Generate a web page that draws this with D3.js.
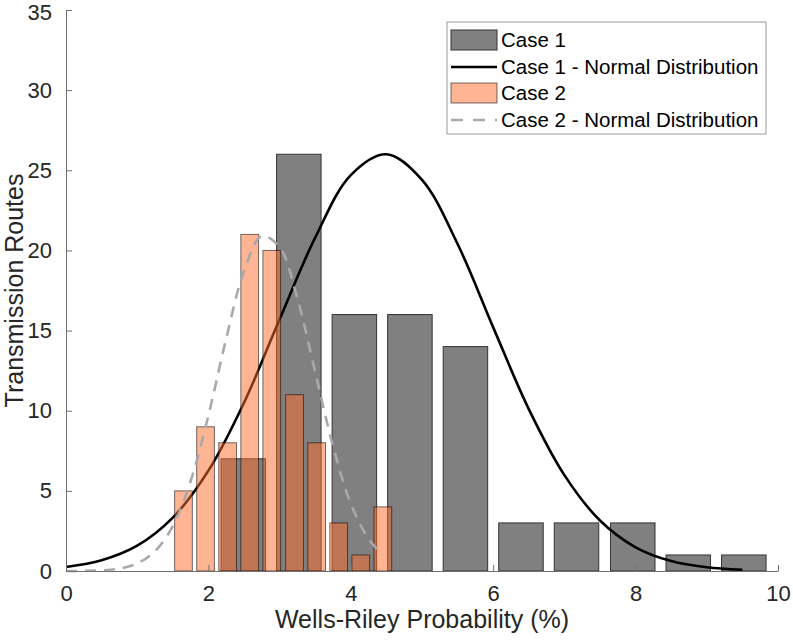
<!DOCTYPE html>
<html>
<head>
<meta charset="utf-8">
<script src="https://cdn.jsdelivr.net/npm/d3@7"></script>
<style>
  html, body { margin: 0; padding: 0; background: #fff; }
  svg { display: block; font-family: "Liberation Sans", Arial, sans-serif; }
</style>
</head>
<body>
<svg id="chart" width="793" height="643"></svg>
<script>
// ---- Data ----
const caseOneCenters = [2.49, 3.27, 4.05, 4.83, 5.61, 6.39, 7.17, 7.96, 8.74, 9.52];
const caseOneCounts  = [7, 26, 16, 16, 14, 3, 3, 3, 1, 1];
const caseTwoCenters = [1.65, 1.96, 2.27, 2.58, 2.89, 3.21, 3.52, 3.83, 4.14, 4.45];
const caseTwoCounts  = [5, 9, 8, 21, 20, 11, 8, 3, 1, 4];

const caseOneCurveX = [0, 0.5, 1, 1.5, 2, 2.5, 3, 3.5, 4, 4.5, 5, 5.5, 6, 6.5, 7, 7.5, 8, 8.5, 9, 9.5];
const caseOneCurveY = [0.25, 0.67, 1.58, 3.33, 6.26, 10.5, 15.7, 20.8, 24.7, 26.0, 24.4, 20.4, 15.2, 10.1, 5.98, 3.15, 1.48, 0.62, 0.23, 0.08];

const caseTwoCurveX = [0, 0.25, 0.5, 0.75, 1, 1.25, 1.5, 1.75, 2, 2.25, 2.5, 2.75, 3, 3.25, 3.5, 3.75, 4, 4.25, 4.45];
const caseTwoCurveY = [0, 0.01, 0.04, 0.15, 0.47, 1.24, 2.8, 5.6, 9.7, 14.5, 18.7, 20.9, 20.2, 17.0, 12.4, 7.8, 4.2, 2.0, 1.0];

const xTicks = [0, 2, 4, 6, 8, 10];
const yTicks = [0, 5, 10, 15, 20, 25, 30, 35];
const legendLabels = ["Case 1", "Case 1 - Normal Distribution", "Case 2", "Case 2 - Normal Distribution"];

// ---- Layout ----
const svg = d3.select("#chart");
const x = d3.scaleLinear().domain([0, 10]).range([66, 778]);
const y = d3.scaleLinear().domain([0, 35]).range([571, 10]);
const barWidthOne = 0.625;   // in data units
const barWidthTwo = 0.249;

const axisColor = "#707070";
const textColor = "#262626";

// Case 1 bars
svg.append("g").selectAll("rect")
  .data(caseOneCenters.map((c, i) => ({c, v: caseOneCounts[i]})))
  .join("rect")
  .attr("x", d => x(d.c - barWidthOne / 2))
  .attr("width", d => x(d.c + barWidthOne / 2) - x(d.c - barWidthOne / 2))
  .attr("y", d => y(d.v))
  .attr("height", d => y(0) - y(d.v))
  .attr("fill", "#808080")
  .attr("stroke", "#333")
  .attr("stroke-width", 1);

// Case 1 normal curve
const line = d3.line().curve(d3.curveCatmullRom.alpha(0.5));
svg.append("path")
  .attr("d", line(caseOneCurveX.map((v, i) => [x(v), y(caseOneCurveY[i])])))
  .attr("fill", "none")
  .attr("stroke", "#000")
  .attr("stroke-width", 2.6);

// Case 2 bars
svg.append("g").selectAll("rect")
  .data(caseTwoCenters.map((c, i) => ({c, v: caseTwoCounts[i]})))
  .join("rect")
  .attr("x", d => x(d.c - barWidthTwo / 2))
  .attr("width", d => x(d.c + barWidthTwo / 2) - x(d.c - barWidthTwo / 2))
  .attr("y", d => y(d.v))
  .attr("height", d => y(0) - y(d.v))
  .attr("fill", "rgb(255,106,42)")
  .attr("fill-opacity", 0.5)
  .attr("stroke", "#000")
  .attr("stroke-opacity", 0.55)
  .attr("stroke-width", 1);

// Case 2 normal curve
svg.append("path")
  .attr("d", line(caseTwoCurveX.map((v, i) => [x(v), y(caseTwoCurveY[i])])))
  .attr("fill", "none")
  .attr("stroke", "#a9a9a9")
  .attr("stroke-width", 2.6)
  .attr("stroke-dasharray", "11,8");

// Axes
const xAxis = d3.axisBottom(x).tickValues(xTicks).tickSizeInner(-6).tickSizeOuter(0).tickPadding(14);
const yAxis = d3.axisLeft(y).tickValues(yTicks).tickSizeInner(-6).tickSizeOuter(0).tickPadding(14);

const gx = svg.append("g").attr("transform", `translate(0,${y(0)})`).call(xAxis);
const gy = svg.append("g").attr("transform", `translate(${x(0)},0)`).call(yAxis);
[gx, gy].forEach(g => {
  g.select(".domain").attr("stroke", axisColor).attr("stroke-width", 1);
  g.selectAll(".tick line").attr("stroke", axisColor).attr("stroke-width", 1);
  g.selectAll(".tick text").attr("fill", textColor)
    .style("font-size", "22px").style("font-family", "'Liberation Sans', Arial, sans-serif");
});
gx.selectAll(".tick text").attr("dy", "0.71em");
// keep the top label inside the picture (as in the reference)
gy.selectAll(".tick text").filter(d => d === 35).attr("dy", "0.45em");

// Axis labels
svg.append("text")
  .attr("x", (x(0) + x(10)) / 2).attr("y", 628)
  .attr("text-anchor", "middle")
  .attr("fill", textColor)
  .style("font-size", "25px")
  .text("Wells-Riley Probability (%)");

svg.append("text")
  .attr("transform", `translate(23,${(y(0) + y(35)) / 2}) rotate(-90)`)
  .attr("text-anchor", "middle")
  .attr("fill", textColor)
  .style("font-size", "25px")
  .text("Transmission Routes");

// Legend
const lg = svg.append("g").attr("transform", "translate(447,22)");
lg.append("rect").attr("width", 319).attr("height", 112)
  .attr("fill", "#fff").attr("stroke", "#999").attr("stroke-width", 1);
const rowY = [18, 45, 71, 98];
lg.append("rect").attr("x", 4).attr("y", rowY[0] - 10).attr("width", 46).attr("height", 20)
  .attr("fill", "#808080").attr("stroke", "#333");
lg.append("line").attr("x1", 4).attr("x2", 50).attr("y1", rowY[1]).attr("y2", rowY[1])
  .attr("stroke", "#000").attr("stroke-width", 2.6);
lg.append("rect").attr("x", 4).attr("y", rowY[2] - 10).attr("width", 46).attr("height", 20)
  .attr("fill", "rgb(255,106,42)").attr("fill-opacity", 0.5)
  .attr("stroke", "#000").attr("stroke-opacity", 0.55);
lg.append("line").attr("x1", 4).attr("x2", 50).attr("y1", rowY[3]).attr("y2", rowY[3])
  .attr("stroke", "#a9a9a9").attr("stroke-width", 2.6).attr("stroke-dasharray", "12,10");
lg.selectAll("text.lbl").data(legendLabels).join("text")
  .attr("class", "lbl")
  .attr("x", 54)
  .attr("y", (d, i) => rowY[i])
  .attr("dy", "0.36em")
  .attr("fill", "#000")
  .style("font-size", "20.5px")
  .text(d => d);
</script>
</body>
</html>
